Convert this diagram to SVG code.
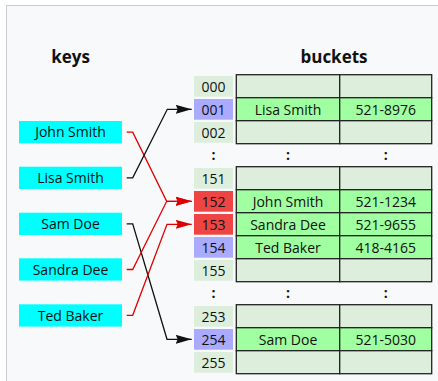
<svg xmlns="http://www.w3.org/2000/svg" width="438" height="381" viewBox="0 0 438 381">
  <defs>
    <marker id="arrowBlack" viewBox="0 0 16 9" refX="16" refY="4.5" markerWidth="16" markerHeight="9" markerUnits="userSpaceOnUse" orient="auto">
      <path d="M0,0 L16,4.5 L0,9 L2,4.5 Z" fill="#111"/>
    </marker>
    <marker id="arrowRed" viewBox="0 0 16 9" refX="16" refY="4.5" markerWidth="16" markerHeight="9" markerUnits="userSpaceOnUse" orient="auto">
      <path d="M0,0 L16,4.5 L0,9 L2,4.5 Z" fill="#dd0000"/>
    </marker>
  </defs>
  <style>
    text { font-family: "Open Sans", "Noto Sans", "DejaVu Sans", sans-serif; font-size: 14px; fill: #111; text-anchor: middle; }
    .title { font-size: 17px; font-weight: bold; }
    .gap { font-weight: bold; }
    .key rect { fill: #00ffff; }
    .idx { fill: #ddeedd; }
    .idx-hit { fill: #aaaaff; }
    .idx-col { fill: #ee4444; }
    .row-empty { fill: #ddeedd; stroke: #222; stroke-width: 1.3; }
    .row-full { fill: #a0ffa0; stroke: #222; stroke-width: 1.3; }
    .link { fill: none; stroke-width: 1.3; stroke-linejoin: miter; }
    .black { stroke: #111; marker-end: url(#arrowBlack); }
    .red { stroke: #dd0000; marker-end: url(#arrowRed); }
  </style>

  <!-- panel -->
  <rect x="6.5" y="5.5" width="440" height="390" fill="#f8f9fa" stroke="#c8ccd1" stroke-width="1"/>

  <text class="title" x="70.5" y="63">keys</text>
  <text class="title" x="334" y="63">buckets</text>

  <!-- keys -->
  <g id="key-john" class="key"><rect x="19" y="121" width="103" height="22.3"/><text x="70.5" y="137.4">John Smith</text></g>
  <g id="key-lisa" class="key"><rect x="19" y="166.7" width="103" height="22.3"/><text x="70.5" y="183.1">Lisa Smith</text></g>
  <g id="key-sam" class="key"><rect x="19" y="212.7" width="103" height="22.3"/><text x="70.5" y="229.1">Sam Doe</text></g>
  <g id="key-sandra" class="key"><rect x="19" y="258.3" width="103" height="22.3"/><text x="70.5" y="274.7">Sandra Dee</text></g>
  <g id="key-ted" class="key"><rect x="19" y="304.3" width="103" height="22.3"/><text x="70.5" y="320.7">Ted Baker</text></g>

  <!-- index cells -->
  <g id="index">
    <g id="idx-000"><rect class="idx" x="194" y="76" width="39" height="20.7"/><text x="213.5" y="91.6">000</text></g>
    <g id="idx-001"><rect class="idx-hit" x="194" y="99" width="39" height="20.7"/><text x="213.5" y="114.6">001</text></g>
    <g id="idx-002"><rect class="idx" x="194" y="122" width="39" height="20.7"/><text x="213.5" y="137.6">002</text></g>
    <text class="gap" x="213.5" y="159.6">:</text>
    <g id="idx-151"><rect class="idx" x="194" y="168" width="39" height="20.7"/><text x="213.5" y="183.6">151</text></g>
    <g id="idx-152"><rect class="idx-col" x="194" y="191" width="39" height="20.7"/><text x="213.5" y="206.6">152</text></g>
    <g id="idx-153"><rect class="idx-col" x="194" y="214" width="39" height="20.7"/><text x="213.5" y="229.6">153</text></g>
    <g id="idx-154"><rect class="idx-hit" x="194" y="237" width="39" height="20.7"/><text x="213.5" y="252.6">154</text></g>
    <g id="idx-155"><rect class="idx" x="194" y="260" width="39" height="20.7"/><text x="213.5" y="275.6">155</text></g>
    <text class="gap" x="213.5" y="297.6">:</text>
    <g id="idx-253"><rect class="idx" x="194" y="306" width="39" height="20.7"/><text x="213.5" y="321.6">253</text></g>
    <g id="idx-254"><rect class="idx-hit" x="194" y="329" width="39" height="20.7"/><text x="213.5" y="344.6">254</text></g>
    <g id="idx-255"><rect class="idx" x="194" y="352" width="39" height="20.7"/><text x="213.5" y="367.6">255</text></g>
  </g>

  <!-- bucket table -->
  <g id="buckets">
    <g id="row-000"><rect class="row-empty" x="236.3" y="74.7" width="103.4" height="23"/><rect class="row-empty" x="339.7" y="74.7" width="92" height="23"/></g>
    <g id="row-001"><rect class="row-full" x="236.3" y="97.7" width="103.4" height="23"/><rect class="row-full" x="339.7" y="97.7" width="92" height="23"/><text x="288" y="114.6">Lisa Smith</text><text x="385.7" y="114.6">521-8976</text></g>
    <g id="row-002"><rect class="row-empty" x="236.3" y="120.7" width="103.4" height="23"/><rect class="row-empty" x="339.7" y="120.7" width="92" height="23"/></g>
    <text class="gap" x="288" y="159.6">:</text><text class="gap" x="385.7" y="159.6">:</text>
    <g id="row-151"><rect class="row-empty" x="236.3" y="166.7" width="103.4" height="23"/><rect class="row-empty" x="339.7" y="166.7" width="92" height="23"/></g>
    <g id="row-152"><rect class="row-full" x="236.3" y="189.7" width="103.4" height="23"/><rect class="row-full" x="339.7" y="189.7" width="92" height="23"/><text x="288" y="206.6">John Smith</text><text x="385.7" y="206.6">521-1234</text></g>
    <g id="row-153"><rect class="row-full" x="236.3" y="212.7" width="103.4" height="23"/><rect class="row-full" x="339.7" y="212.7" width="92" height="23"/><text x="288" y="229.6">Sandra Dee</text><text x="385.7" y="229.6">521-9655</text></g>
    <g id="row-154"><rect class="row-full" x="236.3" y="235.7" width="103.4" height="23"/><rect class="row-full" x="339.7" y="235.7" width="92" height="23"/><text x="288" y="252.6">Ted Baker</text><text x="385.7" y="252.6">418-4165</text></g>
    <g id="row-155"><rect class="row-empty" x="236.3" y="258.7" width="103.4" height="23"/><rect class="row-empty" x="339.7" y="258.7" width="92" height="23"/></g>
    <text class="gap" x="288" y="297.6">:</text><text class="gap" x="385.7" y="297.6">:</text>
    <g id="row-253"><rect class="row-empty" x="236.3" y="304.7" width="103.4" height="23"/><rect class="row-empty" x="339.7" y="304.7" width="92" height="23"/></g>
    <g id="row-254"><rect class="row-full" x="236.3" y="327.7" width="103.4" height="23"/><rect class="row-full" x="339.7" y="327.7" width="92" height="23"/><text x="288" y="344.6">Sam Doe</text><text x="385.7" y="344.6">521-5030</text></g>
    <g id="row-255"><rect class="row-empty" x="236.3" y="350.7" width="103.4" height="23"/><rect class="row-empty" x="339.7" y="350.7" width="92" height="23"/></g>
  </g>

  <!-- connectors: key -> hashed slot -->
  <g id="connectors">
    <path class="link red" d="M126.7,132.2 H132.7 L166.7,201.3 H191.7"/>
    <path class="link black" d="M126.7,177.8 H132.7 L167.3,109.3 H191.7"/>
    <path class="link black" d="M126.7,223.9 H132.7 L167,339.3 H191.7"/>
    <path class="link red" d="M126.7,269.5 H132.7 L166.7,201.3 H191.7"/>
    <path class="link red" d="M126.7,315.3 H132.7 L167,224.3 H191.7"/>
  </g>
</svg>
